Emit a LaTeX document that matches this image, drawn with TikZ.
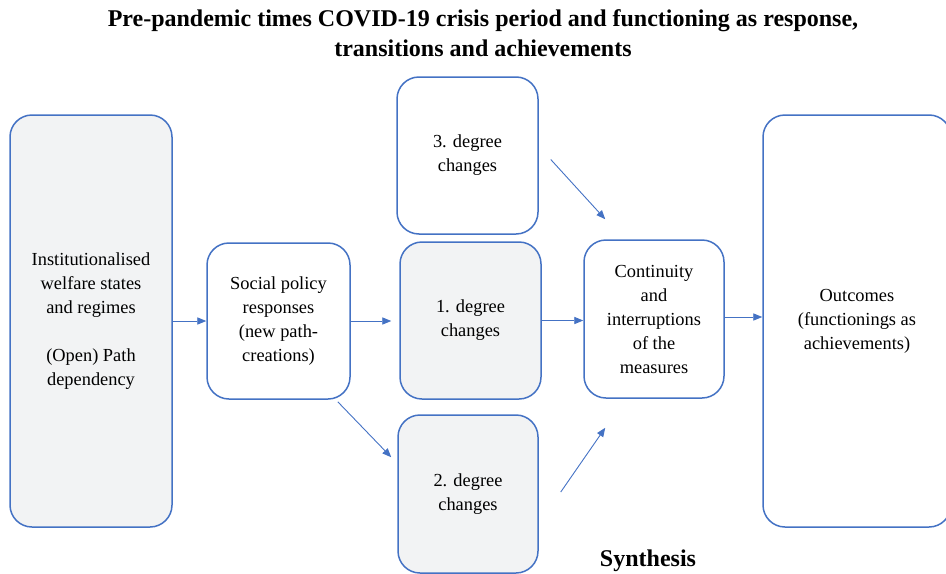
\documentclass[tikz,border=0pt]{standalone}
\usepackage{fontspec}
\setmainfont{Liberation Serif}
\usetikzlibrary{arrows.meta}
\usetikzlibrary{calc}

\definecolor{boxblue}{HTML}{4472C4}
\definecolor{boxgray}{HTML}{F2F3F4}

\begin{document}
\begin{tikzpicture}[x=0.5pt,y=-0.5pt,
    stage/.style={draw=boxblue,line width=0.75pt,rounded corners=11pt,align=center,
        font=\fontsize{9.2}{12}\selectfont,inner sep=0pt},
    shaded/.style={stage,fill=boxgray},
    plain/.style={stage,fill=white},
    link/.style={draw=boxblue,line width=0.45pt,-{Triangle[length=4.5pt,width=3.6pt]}},
    heading/.style={font=\fontsize{12}{15}\selectfont\bfseries,align=center}]
    \useasboundingbox (0,0) rectangle (946,573);
    \node[heading] (title) at (483,33){Pre-pandemic times COVID-19 crisis period and functioning as response,\\transitions and achievements};
    \node[shaded,minimum width=81pt,minimum height=206pt] (inst) at (91,321){Institutionalised\\welfare states\\and regimes\\[12pt](Open) Path\\dependency};
    \node[plain,minimum width=71.5pt,minimum height=78pt] (social) at (278.5,321){Social policy\\responses\\(new path-\\creations)};
    \node[plain,minimum width=70.5pt,minimum height=78.5pt] (deg3) at (467.5,155.5){3. degree\\changes};
    \node[shaded,minimum width=70.5pt,minimum height=78.5pt] (deg1) at (470.5,320.5){1. degree\\changes};
    \node[shaded,minimum width=70pt,minimum height=79pt] (deg2) at (468,494){2. degree\\changes};
    \node[plain,minimum width=70pt,minimum height=79pt] (cont) at (654,319){Continuity\\and\\interruptions\\of the\\measures};
    \node[plain,minimum width=94pt,minimum height=206pt] (outc) at (857,321){Outcomes\\(functionings as\\achievements)};
    \node[heading] (synth) at (648,561){Synthesis};
    % arrows
    \draw[link] (inst.east) -- (social.west);
    \draw[link,shorten >=4pt] (social.east) -- (social.east -| deg1.west);
    \draw[link] ([shift={(-13,2)}]social.south east) -- ([shift={(-6,43)}]deg2.north west);
    \draw[link] ([shift={(12,4)}]deg3.east) -- ([shift={(22,-20)}]cont.north west);
    \draw[link] (deg1.east) -- (deg1.east -| cont.west);
    \draw[link] ([shift={(22,-2)}]deg2.east) -- ([shift={(22,29)}]cont.south west);
    \draw[link] ([yshift=1pt]cont.east) -- ([yshift=1pt]cont.east -| outc.west);
\end{tikzpicture}
\end{document}
